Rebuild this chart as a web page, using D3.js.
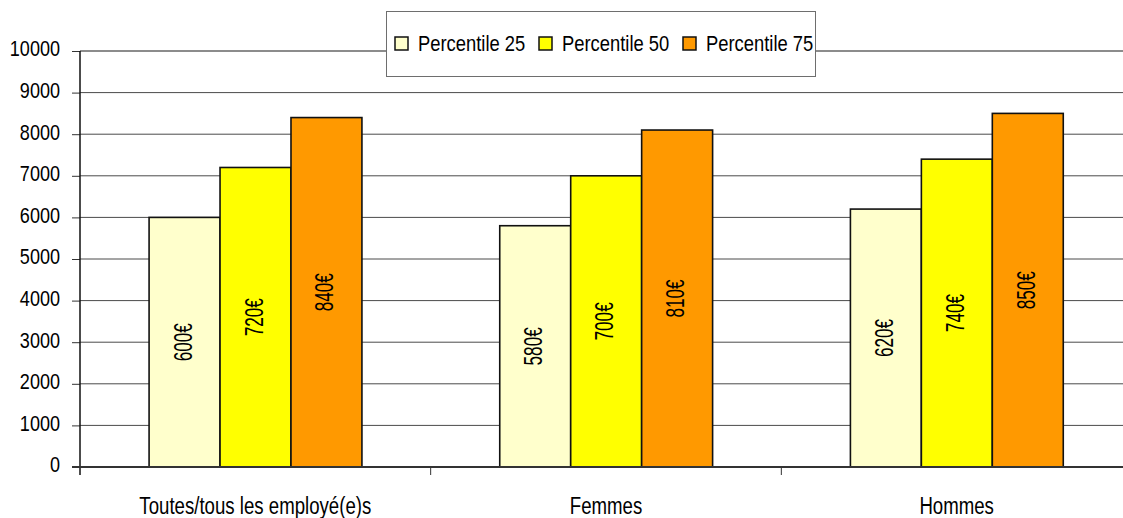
<!DOCTYPE html>
<html>
<head>
<meta charset="utf-8">
<script src="https://cdn.jsdelivr.net/npm/d3@7"></script>
<style>
  html, body { margin: 0; padding: 0; background: #fff; }
  svg { display: block; }
  text { font-family: "Liberation Sans", Arial, sans-serif; fill: #000; }
</style>
</head>
<body>
<svg id="chart" width="1123" height="518"></svg>
<script>
const categories = ["Toutes/tous les employé(e)s", "Femmes", "Hommes"];
const seriesNames = ["Percentile 25", "Percentile 50", "Percentile 75"];
const p25 = [6000, 5800, 6200];
const p50 = [7200, 7000, 7400];
const p75 = [8400, 8100, 8500];
const barLabels = [["600€", "580€", "620€"], ["720€", "700€", "740€"], ["840€", "810€", "850€"]];
const yTicks = [0, 1000, 2000, 3000, 4000, 5000, 6000, 7000, 8000, 9000, 10000];
const colors = ["#FFFFCC", "#FFFF00", "#FF9900"];

const seriesValues = [p25, p50, p75];
const svg = d3.select("#chart");

function condense(sel, factor) {
  sel.each(function () {
    const L = this.getComputedTextLength();
    d3.select(this).attr("textLength", L * factor).attr("lengthAdjust", "spacingAndGlyphs");
  });
}

const plotLeft = 80, plotRight = 1132, plotTop = 51, plotBottom = 467;

const y = d3.scaleLinear().domain([0, 10000]).range([plotBottom, plotTop]);
const x0 = d3.scaleBand().domain(categories).range([plotLeft, plotRight]).padding(0);
const bw = x0.bandwidth();
const x1 = d3.scaleBand().domain(seriesNames).range([bw * 0.197, bw * 0.804]).padding(0);

// gridlines
svg.append("g").selectAll("line")
  .data(yTicks.filter(t => t > 0))
  .join("line")
  .attr("x1", plotLeft).attr("x2", plotRight)
  .attr("y1", d => y(d)).attr("y2", d => y(d))
  .attr("stroke", d => d === 10000 ? "#8c8c8c" : "#4a4a4a")
  .attr("stroke-width", d => d === 10000 ? 2 : 1);

// y axis
const yAxis = d3.axisLeft(y).tickValues(yTicks).tickSize(8).tickPadding(12).tickFormat(d3.format("d"));
const gy = svg.append("g").attr("transform", `translate(${plotLeft},0)`).call(yAxis);
gy.select(".domain").remove();
gy.selectAll(".tick line").attr("stroke", "#333").attr("stroke-width", 1);
gy.selectAll(".tick text")
  .attr("font-size", 22)
  .attr("font-family", "Liberation Sans, Arial, sans-serif")
  .attr("dy", "0.22em")
  .call(condense, 0.82);
svg.append("line")
  .attr("x1", plotLeft).attr("x2", plotLeft)
  .attr("y1", plotTop).attr("y2", plotBottom + 8)
  .attr("stroke", "#111").attr("stroke-width", 1.5);

// bars
const groups = svg.append("g").selectAll("g")
  .data(categories)
  .join("g")
  .attr("transform", d => `translate(${x0(d)},0)`);

seriesNames.forEach((s, si) => {
  groups.append("rect")
    .attr("x", x1(s))
    .attr("width", x1.bandwidth())
    .attr("y", (d, ci) => y(seriesValues[si][ci]))
    .attr("height", (d, ci) => y(0) - y(seriesValues[si][ci]))
    .attr("fill", colors[si])
    .attr("stroke", "#111")
    .attr("stroke-width", 1.6);
  groups.append("text")
    .attr("transform", (d, ci) => {
      const cx = x1(s) + x1.bandwidth() / 2 - 2;
      const cy = (y(seriesValues[si][ci]) + y(0)) / 2;
      return `translate(${cx},${cy}) rotate(-90)`;
    })
    .attr("text-anchor", "middle")
    .attr("dominant-baseline", "central")
    .attr("font-size", 26)
    .attr("font-family", "DejaVu Sans, Liberation Sans, sans-serif")
    .text((d, ci) => barLabels[si][ci])
    .call(condense, 0.66);
});

// x axis
const xAxis = d3.axisBottom(x0).tickSize(0).tickPadding(31);
const gx = svg.append("g").attr("transform", `translate(0,${plotBottom})`).call(xAxis);
gx.select(".domain").remove();
gx.selectAll(".tick text").attr("font-size", 23)
  .attr("font-family", "Liberation Sans, Arial, sans-serif")
  .call(condense, 0.81);
svg.append("line")
  .attr("x1", plotLeft - 8).attr("x2", plotRight)
  .attr("y1", plotBottom).attr("y2", plotBottom)
  .attr("stroke", "#333").attr("stroke-width", 2);
// category boundary ticks
svg.append("g").selectAll("line")
  .data(categories.slice(1))
  .join("line")
  .attr("x1", d => x0(d)).attr("x2", d => x0(d))
  .attr("y1", plotBottom).attr("y2", plotBottom + 8)
  .attr("stroke", "#333").attr("stroke-width", 1);

// legend
const lg = svg.append("g");
lg.append("rect")
  .attr("x", 386.5).attr("y", 11.5).attr("width", 429).attr("height", 65)
  .attr("fill", "#fff").attr("stroke", "#6e6e6e").attr("stroke-width", 1);
const legX = [395, 539, 683];
seriesNames.forEach((s, i) => {
  lg.append("rect")
    .attr("x", legX[i]).attr("y", 37)
    .attr("width", 13).attr("height", 13)
    .attr("fill", colors[i]).attr("stroke", "#111").attr("stroke-width", 1.5);
  lg.append("text")
    .attr("x", legX[i] + 23).attr("y", 51)
    .attr("font-size", 22)
    .text(s)
    .call(condense, 0.835);
});
</script>
</body>
</html>
